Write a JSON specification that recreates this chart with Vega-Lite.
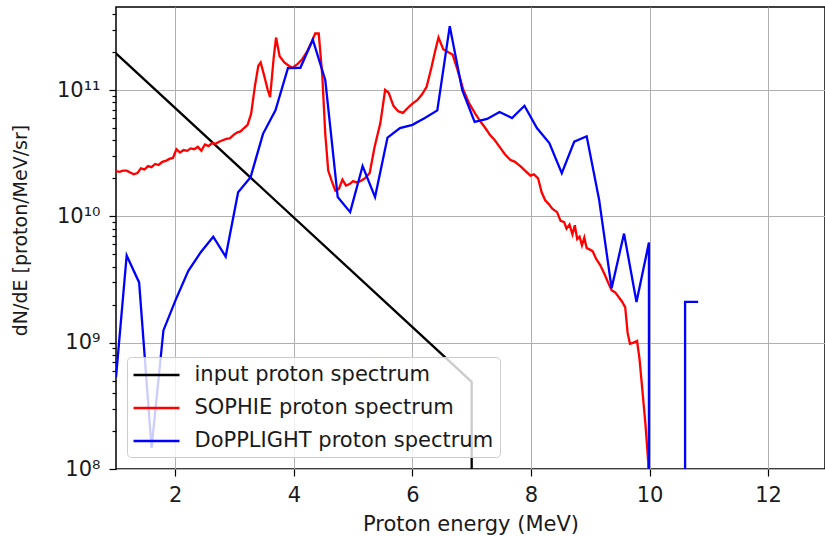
{
  "$schema": "https://vega.github.io/schema/vega-lite/v6.json",
  "width": 709,
  "height": 462,
  "autosize": {"type": "none"},
  "padding": {"left": 116, "top": 7, "right": 0, "bottom": 67},
  "config": {
    "font": "DejaVu Sans",
    "view": {"stroke": "#000000", "strokeWidth": 1.5},
    "axis": {
      "labelFont": "DejaVu Sans", "titleFont": "DejaVu Sans",
      "labelFontSize": 21, "titleFontSize": 21, "titleFontWeight": "normal",
      "labelColor": "#1a1a1a", "titleColor": "#1a1a1a",
      "gridColor": "#b0b0b0", "gridWidth": 1, "gridOpacity": 1,
      "domain": false, "tickColor": "#000000", "tickWidth": 1.2
    },
    "legend": {
      "labelFont": "DejaVu Sans", "labelFontSize": 21, "labelColor": "#1a1a1a", "labelLimit": 500
    }
  },
  "datasets": {
    "spectra": [
      {"series": "input proton spectrum", "part": "k", "E": 1.0, "N": 1.95e11},
      {"series": "input proton spectrum", "part": "k", "E": 7.0, "N": 4.9e8},
      {"series": "input proton spectrum", "part": "k", "E": 7.0, "N": 1e6},

      {"series": "SOPHIE proton spectrum", "part": "r", "E": 1.00, "N": 2.28e10},
      {"series": "SOPHIE proton spectrum", "part": "r", "E": 1.06, "N": 2.25e10},
      {"series": "SOPHIE proton spectrum", "part": "r", "E": 1.12, "N": 2.3e10},
      {"series": "SOPHIE proton spectrum", "part": "r", "E": 1.18, "N": 2.3e10},
      {"series": "SOPHIE proton spectrum", "part": "r", "E": 1.24, "N": 2.22e10},
      {"series": "SOPHIE proton spectrum", "part": "r", "E": 1.30, "N": 2.15e10},
      {"series": "SOPHIE proton spectrum", "part": "r", "E": 1.36, "N": 2.2e10},
      {"series": "SOPHIE proton spectrum", "part": "r", "E": 1.42, "N": 2.4e10},
      {"series": "SOPHIE proton spectrum", "part": "r", "E": 1.48, "N": 2.35e10},
      {"series": "SOPHIE proton spectrum", "part": "r", "E": 1.54, "N": 2.5e10},
      {"series": "SOPHIE proton spectrum", "part": "r", "E": 1.60, "N": 2.45e10},
      {"series": "SOPHIE proton spectrum", "part": "r", "E": 1.66, "N": 2.6e10},
      {"series": "SOPHIE proton spectrum", "part": "r", "E": 1.72, "N": 2.55e10},
      {"series": "SOPHIE proton spectrum", "part": "r", "E": 1.78, "N": 2.7e10},
      {"series": "SOPHIE proton spectrum", "part": "r", "E": 1.84, "N": 2.75e10},
      {"series": "SOPHIE proton spectrum", "part": "r", "E": 1.90, "N": 2.85e10},
      {"series": "SOPHIE proton spectrum", "part": "r", "E": 1.96, "N": 2.9e10},
      {"series": "SOPHIE proton spectrum", "part": "r", "E": 2.02, "N": 3.4e10},
      {"series": "SOPHIE proton spectrum", "part": "r", "E": 2.08, "N": 3.2e10},
      {"series": "SOPHIE proton spectrum", "part": "r", "E": 2.14, "N": 3.35e10},
      {"series": "SOPHIE proton spectrum", "part": "r", "E": 2.20, "N": 3.3e10},
      {"series": "SOPHIE proton spectrum", "part": "r", "E": 2.26, "N": 3.45e10},
      {"series": "SOPHIE proton spectrum", "part": "r", "E": 2.32, "N": 3.4e10},
      {"series": "SOPHIE proton spectrum", "part": "r", "E": 2.38, "N": 3.55e10},
      {"series": "SOPHIE proton spectrum", "part": "r", "E": 2.44, "N": 3.3e10},
      {"series": "SOPHIE proton spectrum", "part": "r", "E": 2.50, "N": 3.7e10},
      {"series": "SOPHIE proton spectrum", "part": "r", "E": 2.56, "N": 3.6e10},
      {"series": "SOPHIE proton spectrum", "part": "r", "E": 2.62, "N": 3.8e10},
      {"series": "SOPHIE proton spectrum", "part": "r", "E": 2.68, "N": 3.75e10},
      {"series": "SOPHIE proton spectrum", "part": "r", "E": 2.74, "N": 3.9e10},
      {"series": "SOPHIE proton spectrum", "part": "r", "E": 2.80, "N": 4.0e10},
      {"series": "SOPHIE proton spectrum", "part": "r", "E": 2.86, "N": 4.1e10},
      {"series": "SOPHIE proton spectrum", "part": "r", "E": 2.92, "N": 4.15e10},
      {"series": "SOPHIE proton spectrum", "part": "r", "E": 2.98, "N": 4.4e10},
      {"series": "SOPHIE proton spectrum", "part": "r", "E": 3.04, "N": 4.6e10},
      {"series": "SOPHIE proton spectrum", "part": "r", "E": 3.10, "N": 4.7e10},
      {"series": "SOPHIE proton spectrum", "part": "r", "E": 3.16, "N": 5.0e10},
      {"series": "SOPHIE proton spectrum", "part": "r", "E": 3.22, "N": 5.3e10},
      {"series": "SOPHIE proton spectrum", "part": "r", "E": 3.28, "N": 6.5e10},
      {"series": "SOPHIE proton spectrum", "part": "r", "E": 3.34, "N": 1.05e11},
      {"series": "SOPHIE proton spectrum", "part": "r", "E": 3.40, "N": 1.55e11},
      {"series": "SOPHIE proton spectrum", "part": "r", "E": 3.44, "N": 1.65e11},
      {"series": "SOPHIE proton spectrum", "part": "r", "E": 3.50, "N": 1.3e11},
      {"series": "SOPHIE proton spectrum", "part": "r", "E": 3.56, "N": 1.0e11},
      {"series": "SOPHIE proton spectrum", "part": "r", "E": 3.60, "N": 8.8e10},
      {"series": "SOPHIE proton spectrum", "part": "r", "E": 3.66, "N": 1.8e11},
      {"series": "SOPHIE proton spectrum", "part": "r", "E": 3.70, "N": 2.6e11},
      {"series": "SOPHIE proton spectrum", "part": "r", "E": 3.76, "N": 1.85e11},
      {"series": "SOPHIE proton spectrum", "part": "r", "E": 3.84, "N": 1.65e11},
      {"series": "SOPHIE proton spectrum", "part": "r", "E": 3.92, "N": 1.55e11},
      {"series": "SOPHIE proton spectrum", "part": "r", "E": 3.98, "N": 1.5e11},
      {"series": "SOPHIE proton spectrum", "part": "r", "E": 4.06, "N": 1.6e11},
      {"series": "SOPHIE proton spectrum", "part": "r", "E": 4.14, "N": 1.75e11},
      {"series": "SOPHIE proton spectrum", "part": "r", "E": 4.22, "N": 2.0e11},
      {"series": "SOPHIE proton spectrum", "part": "r", "E": 4.30, "N": 2.4e11},
      {"series": "SOPHIE proton spectrum", "part": "r", "E": 4.36, "N": 2.8e11},
      {"series": "SOPHIE proton spectrum", "part": "r", "E": 4.42, "N": 2.8e11},
      {"series": "SOPHIE proton spectrum", "part": "r", "E": 4.48, "N": 1.3e11},
      {"series": "SOPHIE proton spectrum", "part": "r", "E": 4.53, "N": 4.5e10},
      {"series": "SOPHIE proton spectrum", "part": "r", "E": 4.58, "N": 2.3e10},
      {"series": "SOPHIE proton spectrum", "part": "r", "E": 4.64, "N": 1.9e10},
      {"series": "SOPHIE proton spectrum", "part": "r", "E": 4.70, "N": 1.6e10},
      {"series": "SOPHIE proton spectrum", "part": "r", "E": 4.76, "N": 1.65e10},
      {"series": "SOPHIE proton spectrum", "part": "r", "E": 4.82, "N": 1.95e10},
      {"series": "SOPHIE proton spectrum", "part": "r", "E": 4.88, "N": 1.75e10},
      {"series": "SOPHIE proton spectrum", "part": "r", "E": 4.94, "N": 1.8e10},
      {"series": "SOPHIE proton spectrum", "part": "r", "E": 5.00, "N": 1.9e10},
      {"series": "SOPHIE proton spectrum", "part": "r", "E": 5.06, "N": 1.85e10},
      {"series": "SOPHIE proton spectrum", "part": "r", "E": 5.12, "N": 1.9e10},
      {"series": "SOPHIE proton spectrum", "part": "r", "E": 5.20, "N": 2.0e10},
      {"series": "SOPHIE proton spectrum", "part": "r", "E": 5.28, "N": 2.2e10},
      {"series": "SOPHIE proton spectrum", "part": "r", "E": 5.36, "N": 3.5e10},
      {"series": "SOPHIE proton spectrum", "part": "r", "E": 5.46, "N": 5.5e10},
      {"series": "SOPHIE proton spectrum", "part": "r", "E": 5.54, "N": 1.0e11},
      {"series": "SOPHIE proton spectrum", "part": "r", "E": 5.60, "N": 9.5e10},
      {"series": "SOPHIE proton spectrum", "part": "r", "E": 5.68, "N": 7.5e10},
      {"series": "SOPHIE proton spectrum", "part": "r", "E": 5.76, "N": 6.8e10},
      {"series": "SOPHIE proton spectrum", "part": "r", "E": 5.84, "N": 6.6e10},
      {"series": "SOPHIE proton spectrum", "part": "r", "E": 5.92, "N": 7.2e10},
      {"series": "SOPHIE proton spectrum", "part": "r", "E": 6.00, "N": 7.8e10},
      {"series": "SOPHIE proton spectrum", "part": "r", "E": 6.08, "N": 8.3e10},
      {"series": "SOPHIE proton spectrum", "part": "r", "E": 6.16, "N": 9.2e10},
      {"series": "SOPHIE proton spectrum", "part": "r", "E": 6.24, "N": 1.06e11},
      {"series": "SOPHIE proton spectrum", "part": "r", "E": 6.32, "N": 1.5e11},
      {"series": "SOPHIE proton spectrum", "part": "r", "E": 6.38, "N": 2.0e11},
      {"series": "SOPHIE proton spectrum", "part": "r", "E": 6.44, "N": 2.6e11},
      {"series": "SOPHIE proton spectrum", "part": "r", "E": 6.52, "N": 2.1e11},
      {"series": "SOPHIE proton spectrum", "part": "r", "E": 6.60, "N": 2.0e11},
      {"series": "SOPHIE proton spectrum", "part": "r", "E": 6.68, "N": 1.9e11},
      {"series": "SOPHIE proton spectrum", "part": "r", "E": 6.76, "N": 1.45e11},
      {"series": "SOPHIE proton spectrum", "part": "r", "E": 6.86, "N": 1.0e11},
      {"series": "SOPHIE proton spectrum", "part": "r", "E": 6.96, "N": 7.8e10},
      {"series": "SOPHIE proton spectrum", "part": "r", "E": 7.06, "N": 6.5e10},
      {"series": "SOPHIE proton spectrum", "part": "r", "E": 7.15, "N": 5.6e10},
      {"series": "SOPHIE proton spectrum", "part": "r", "E": 7.23, "N": 5.0e10},
      {"series": "SOPHIE proton spectrum", "part": "r", "E": 7.31, "N": 4.4e10},
      {"series": "SOPHIE proton spectrum", "part": "r", "E": 7.39, "N": 4.0e10},
      {"series": "SOPHIE proton spectrum", "part": "r", "E": 7.48, "N": 3.5e10},
      {"series": "SOPHIE proton spectrum", "part": "r", "E": 7.56, "N": 3.1e10},
      {"series": "SOPHIE proton spectrum", "part": "r", "E": 7.65, "N": 2.8e10},
      {"series": "SOPHIE proton spectrum", "part": "r", "E": 7.73, "N": 2.7e10},
      {"series": "SOPHIE proton spectrum", "part": "r", "E": 7.82, "N": 2.5e10},
      {"series": "SOPHIE proton spectrum", "part": "r", "E": 7.90, "N": 2.3e10},
      {"series": "SOPHIE proton spectrum", "part": "r", "E": 7.99, "N": 2.1e10},
      {"series": "SOPHIE proton spectrum", "part": "r", "E": 8.05, "N": 2.15e10},
      {"series": "SOPHIE proton spectrum", "part": "r", "E": 8.12, "N": 2.0e10},
      {"series": "SOPHIE proton spectrum", "part": "r", "E": 8.18, "N": 1.55e10},
      {"series": "SOPHIE proton spectrum", "part": "r", "E": 8.24, "N": 1.34e10},
      {"series": "SOPHIE proton spectrum", "part": "r", "E": 8.30, "N": 1.25e10},
      {"series": "SOPHIE proton spectrum", "part": "r", "E": 8.36, "N": 1.15e10},
      {"series": "SOPHIE proton spectrum", "part": "r", "E": 8.44, "N": 1.08e10},
      {"series": "SOPHIE proton spectrum", "part": "r", "E": 8.50, "N": 9.2e9},
      {"series": "SOPHIE proton spectrum", "part": "r", "E": 8.56, "N": 9.0e9},
      {"series": "SOPHIE proton spectrum", "part": "r", "E": 8.60, "N": 8.0e9},
      {"series": "SOPHIE proton spectrum", "part": "r", "E": 8.65, "N": 8.6e9},
      {"series": "SOPHIE proton spectrum", "part": "r", "E": 8.70, "N": 7.2e9},
      {"series": "SOPHIE proton spectrum", "part": "r", "E": 8.74, "N": 8.5e9},
      {"series": "SOPHIE proton spectrum", "part": "r", "E": 8.78, "N": 6.6e9},
      {"series": "SOPHIE proton spectrum", "part": "r", "E": 8.82, "N": 6.9e9},
      {"series": "SOPHIE proton spectrum", "part": "r", "E": 8.86, "N": 5.9e9},
      {"series": "SOPHIE proton spectrum", "part": "r", "E": 8.90, "N": 6.8e9},
      {"series": "SOPHIE proton spectrum", "part": "r", "E": 8.94, "N": 5.6e9},
      {"series": "SOPHIE proton spectrum", "part": "r", "E": 8.98, "N": 5.5e9},
      {"series": "SOPHIE proton spectrum", "part": "r", "E": 9.04, "N": 5.3e9},
      {"series": "SOPHIE proton spectrum", "part": "r", "E": 9.10, "N": 4.6e9},
      {"series": "SOPHIE proton spectrum", "part": "r", "E": 9.17, "N": 4.1e9},
      {"series": "SOPHIE proton spectrum", "part": "r", "E": 9.24, "N": 3.5e9},
      {"series": "SOPHIE proton spectrum", "part": "r", "E": 9.30, "N": 3.0e9},
      {"series": "SOPHIE proton spectrum", "part": "r", "E": 9.36, "N": 2.6e9},
      {"series": "SOPHIE proton spectrum", "part": "r", "E": 9.42, "N": 2.5e9},
      {"series": "SOPHIE proton spectrum", "part": "r", "E": 9.48, "N": 2.3e9},
      {"series": "SOPHIE proton spectrum", "part": "r", "E": 9.54, "N": 2.1e9},
      {"series": "SOPHIE proton spectrum", "part": "r", "E": 9.59, "N": 1.9e9},
      {"series": "SOPHIE proton spectrum", "part": "r", "E": 9.63, "N": 1.2e9},
      {"series": "SOPHIE proton spectrum", "part": "r", "E": 9.67, "N": 9.8e8},
      {"series": "SOPHIE proton spectrum", "part": "r", "E": 9.73, "N": 1.0e9},
      {"series": "SOPHIE proton spectrum", "part": "r", "E": 9.79, "N": 1.03e9},
      {"series": "SOPHIE proton spectrum", "part": "r", "E": 9.83, "N": 7.5e8},
      {"series": "SOPHIE proton spectrum", "part": "r", "E": 9.87, "N": 4.7e8},
      {"series": "SOPHIE proton spectrum", "part": "r", "E": 9.93, "N": 2.3e8},
      {"series": "SOPHIE proton spectrum", "part": "r", "E": 9.98, "N": 1.1e8},
      {"series": "SOPHIE proton spectrum", "part": "r", "E": 10.00, "N": 1e6},

      {"series": "DoPPLIGHT proton spectrum", "part": "b1", "E": 1.00, "N": 5.3e8},
      {"series": "DoPPLIGHT proton spectrum", "part": "b1", "E": 1.18, "N": 4.9e9},
      {"series": "DoPPLIGHT proton spectrum", "part": "b1", "E": 1.39, "N": 3.0e9},
      {"series": "DoPPLIGHT proton spectrum", "part": "b1", "E": 1.60, "N": 1.47e8},
      {"series": "DoPPLIGHT proton spectrum", "part": "b1", "E": 1.80, "N": 1.25e9},
      {"series": "DoPPLIGHT proton spectrum", "part": "b1", "E": 2.01, "N": 2.2e9},
      {"series": "DoPPLIGHT proton spectrum", "part": "b1", "E": 2.22, "N": 3.7e9},
      {"series": "DoPPLIGHT proton spectrum", "part": "b1", "E": 2.43, "N": 5.2e9},
      {"series": "DoPPLIGHT proton spectrum", "part": "b1", "E": 2.64, "N": 6.9e9},
      {"series": "DoPPLIGHT proton spectrum", "part": "b1", "E": 2.85, "N": 4.8e9},
      {"series": "DoPPLIGHT proton spectrum", "part": "b1", "E": 3.06, "N": 1.55e10},
      {"series": "DoPPLIGHT proton spectrum", "part": "b1", "E": 3.27, "N": 2.04e10},
      {"series": "DoPPLIGHT proton spectrum", "part": "b1", "E": 3.48, "N": 4.5e10},
      {"series": "DoPPLIGHT proton spectrum", "part": "b1", "E": 3.69, "N": 6.9e10},
      {"series": "DoPPLIGHT proton spectrum", "part": "b1", "E": 3.90, "N": 1.49e11},
      {"series": "DoPPLIGHT proton spectrum", "part": "b1", "E": 4.11, "N": 1.5e11},
      {"series": "DoPPLIGHT proton spectrum", "part": "b1", "E": 4.32, "N": 2.5e11},
      {"series": "DoPPLIGHT proton spectrum", "part": "b1", "E": 4.53, "N": 1.2e11},
      {"series": "DoPPLIGHT proton spectrum", "part": "b1", "E": 4.74, "N": 1.42e10},
      {"series": "DoPPLIGHT proton spectrum", "part": "b1", "E": 4.95, "N": 1.08e10},
      {"series": "DoPPLIGHT proton spectrum", "part": "b1", "E": 5.16, "N": 2.5e10},
      {"series": "DoPPLIGHT proton spectrum", "part": "b1", "E": 5.37, "N": 1.42e10},
      {"series": "DoPPLIGHT proton spectrum", "part": "b1", "E": 5.58, "N": 4.2e10},
      {"series": "DoPPLIGHT proton spectrum", "part": "b1", "E": 5.79, "N": 5.0e10},
      {"series": "DoPPLIGHT proton spectrum", "part": "b1", "E": 6.00, "N": 5.3e10},
      {"series": "DoPPLIGHT proton spectrum", "part": "b1", "E": 6.21, "N": 6.0e10},
      {"series": "DoPPLIGHT proton spectrum", "part": "b1", "E": 6.42, "N": 6.9e10},
      {"series": "DoPPLIGHT proton spectrum", "part": "b1", "E": 6.63, "N": 3.2e11},
      {"series": "DoPPLIGHT proton spectrum", "part": "b1", "E": 6.84, "N": 1.0e11},
      {"series": "DoPPLIGHT proton spectrum", "part": "b1", "E": 7.05, "N": 5.6e10},
      {"series": "DoPPLIGHT proton spectrum", "part": "b1", "E": 7.26, "N": 5.9e10},
      {"series": "DoPPLIGHT proton spectrum", "part": "b1", "E": 7.47, "N": 6.7e10},
      {"series": "DoPPLIGHT proton spectrum", "part": "b1", "E": 7.68, "N": 6.0e10},
      {"series": "DoPPLIGHT proton spectrum", "part": "b1", "E": 7.89, "N": 7.5e10},
      {"series": "DoPPLIGHT proton spectrum", "part": "b1", "E": 8.10, "N": 5.0e10},
      {"series": "DoPPLIGHT proton spectrum", "part": "b1", "E": 8.31, "N": 3.8e10},
      {"series": "DoPPLIGHT proton spectrum", "part": "b1", "E": 8.52, "N": 2.2e10},
      {"series": "DoPPLIGHT proton spectrum", "part": "b1", "E": 8.73, "N": 3.9e10},
      {"series": "DoPPLIGHT proton spectrum", "part": "b1", "E": 8.94, "N": 4.3e10},
      {"series": "DoPPLIGHT proton spectrum", "part": "b1", "E": 9.15, "N": 1.35e10},
      {"series": "DoPPLIGHT proton spectrum", "part": "b1", "E": 9.36, "N": 2.7e9},
      {"series": "DoPPLIGHT proton spectrum", "part": "b1", "E": 9.57, "N": 7.3e9},
      {"series": "DoPPLIGHT proton spectrum", "part": "b1", "E": 9.78, "N": 2.1e9},
      {"series": "DoPPLIGHT proton spectrum", "part": "b1", "E": 9.99, "N": 6.2e9},
      {"series": "DoPPLIGHT proton spectrum", "part": "b1", "E": 9.99, "N": 1e6},
      {"series": "DoPPLIGHT proton spectrum", "part": "b2", "E": 10.60, "N": 1e6},
      {"series": "DoPPLIGHT proton spectrum", "part": "b2", "E": 10.60, "N": 2.1e9},
      {"series": "DoPPLIGHT proton spectrum", "part": "b2", "E": 10.82, "N": 2.1e9}
    ]
  },
  "data": {"name": "spectra"},
  "mark": {"type": "line", "clip": true, "strokeWidth": 2.3},
  "encoding": {
    "x": {
      "field": "E", "type": "quantitative", "sort": null,
      "scale": {"domain": [1, 12.96], "nice": false, "zero": false},
      "axis": {
        "values": [2, 4, 6, 8, 10, 12], "title": "Proton energy (MeV)",
        "tickSize": 7, "labelPadding": 8, "titleY": 44, "titleBaseline": "top",
        "labelFlush": false
      }
    },
    "y": {
      "field": "N", "type": "quantitative",
      "scale": {"type": "log", "domain": [1e8, 4.54e11], "nice": false},
      "axis": {
        "values": [1e8, 2e8, 3e8, 4e8, 5e8, 6e8, 7e8, 8e8, 9e8, 1e9, 2e9, 3e9, 4e9, 5e9, 6e9, 7e9, 8e9, 9e9, 1e10, 2e10, 3e10, 4e10, 5e10, 6e10, 7e10, 8e10, 9e10, 1e11, 2e11, 3e11, 4e11],
        "title": "dN/dE [proton/MeV/sr]",
        "titleFontSize": 19,
        "titleX": -86, "titleY": 223,
        "labelPadding": 9,
        "labelFlush": false,
        "labelExpr": "abs(log(datum.value)/LN10 - round(log(datum.value)/LN10)) < 0.001 ? '10' + ['⁸','⁹','¹⁰','¹¹'][round(log(datum.value)/LN10) - 8] : ''",
        "gridOpacity": {"condition": {"test": "abs(log(datum.value)/LN10 - round(log(datum.value)/LN10)) < 0.001", "value": 1}, "value": 0},
        "tickSize": {"condition": {"test": "abs(log(datum.value)/LN10 - round(log(datum.value)/LN10)) < 0.001", "value": 7}, "value": 4}
      }
    },
    "color": {
      "field": "series", "type": "nominal",
      "scale": {
        "domain": ["input proton spectrum", "SOPHIE proton spectrum", "DoPPLIGHT proton spectrum"],
        "range": ["#000000", "#ff0000", "#0000ff"]
      },
      "legend": {
        "title": null, "orient": "none", "legendX": 11, "legendY": 350,
        "symbolType": "M-2.19,0H2.19", "symbolSize": 441, "symbolStrokeWidth": 2.5,
        "symbolOffset": 11.5, "labelOffset": 26, "padding": 6, "rowPadding": 11,
        "labelLimit": 500,
        "fillColor": "rgba(255,255,255,0.8)", "strokeColor": "#cccccc", "cornerRadius": 4
      }
    },
    "detail": {"field": "part", "type": "nominal"}
  }
}
